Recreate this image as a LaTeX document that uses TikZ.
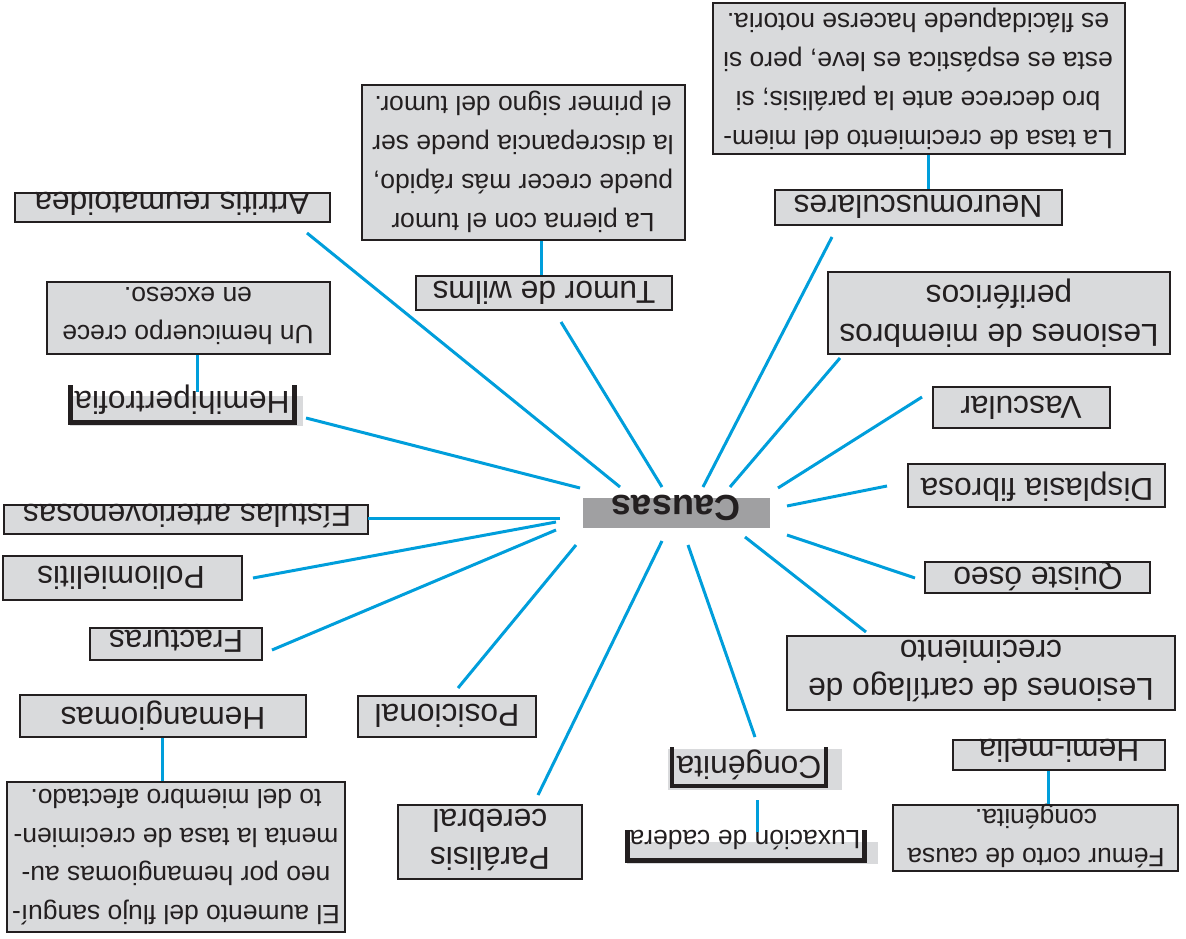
\documentclass[tikz,border=0pt]{standalone}
\usepackage{fontspec}
\setmainfont{Liberation Sans}
\usetikzlibrary{fit}
\definecolor{conn}{RGB}{0,158,219}
\definecolor{boxgray}{RGB}{217,218,220}
\definecolor{hubgray}{RGB}{160,160,162}
\definecolor{ink}{RGB}{35,31,32}
\tikzset{
  box/.style={draw=ink, line width=1.4pt, fill=boxgray, inner sep=0pt},
  shadebox/.style={fill=boxgray, inner sep=0pt},
  lbl/.style={rotate=180, inner sep=0pt, font=\fontsize{18}{22}\selectfont, align=center, text=ink},
  desc/.style={lbl, font=\fontsize{15}{22}\selectfont},
  small/.style={lbl, font=\fontsize{15}{22}\selectfont},
  link/.style={draw=conn, line width=1.7pt},
  frameline/.style={draw=ink, line width=2.8pt},
}
\begin{document}
\begin{tikzpicture}[x=0.567pt, y=-0.567pt]
\useasboundingbox (0,0) rectangle (1186,938);

% hub
\node[fit={(583,498) (770,528)}, fill=hubgray, inner sep=0pt] (causas) {};
\node[lbl, font=\fontsize{20.5}{24}\selectfont\bfseries] (causas-t) at (676,508) {Causas};

% plain boxes
\node[box, fit={(15,193) (330,222)}] (artritis) {};
\node[lbl] (artritis-t) at (172,204) {Artritis reumatoidea};

\node[box, fit={(416,276) (672,310)}] (tumor) {};
\node[lbl] (tumor-t) at (544,293) {Tumor de wilms};

\node[box, fit={(362,85) (685,240)}] (tumordesc) {};
\node[desc] (tumordesc-t) at (523,162) {La pierna con el tumor\\puede crecer más rápido,\\la discrepancia puede ser\\el primer signo del tumor.};

\node[box, fit={(775,190) (1062,225)}] (neuro) {};
\node[lbl] (neuro-t) at (918,207) {Neuromusculares};

\node[box, fit={(713,3) (1125,154)}] (neurodesc) {};
\node[desc] (neurodesc-t) at (918,79) {La tasa de crecimiento del miem-\\bro decrece ante la parálisis; si\\esta es espástica es leve, pero si\\es flácidapuede hacerse notoria.};

\node[box, fit={(828,272) (1170,354)}] (lesmiem) {};
\node[lbl] (lesmiem-t) at (999,313) {Lesiones de miembros\\periféricos};

\node[box, fit={(933,387) (1110,428)}] (vascular) {};
\node[lbl] (vascular-t) at (1021,408) {Vascular};

\node[box, fit={(908,464) (1165,507)}] (displasia) {};
\node[lbl] (displasia-t) at (1037,487) {Displasia fibrosa};

\node[box, fit={(925,562) (1150,593)}] (quiste) {};
\node[lbl] (quiste-t) at (1038,576) {Quiste óseo};

\node[box, fit={(787,636) (1175,710)}] (lescart) {};
\node[lbl] (lescart-t) at (981,671) {Lesiones de cartílago de\\crecimiento};

\node[box, fit={(953,740) (1165,770)}] (hemimelia) {};
\node[lbl] (hemimelia-t) at (1059,751) {Hemi-melia};

\node[box, fit={(893,805) (1178,871)}] (femur) {};
\node[desc] (femur-t) at (1036,836) {Fémur corto de causa\\congénita.};

\node[box, fit={(398,805) (582,879)}] (paralisis) {};
\node[lbl] (paralisis-t) at (490,840) {Parálisis\\cerebral};

\node[box, fit={(358,696) (536,737)}] (posicional) {};
\node[lbl] (posicional-t) at (447,716) {Posicional};

\node[box, fit={(90,628) (262,660)}] (fracturas) {};
\node[lbl] (fracturas-t) at (176,641) {Fracturas};

\node[box, fit={(3,556) (242,600)}] (polio) {};
\node[lbl] (polio-t) at (121,578) {Poliomielitis};

\node[box, fit={(4,505) (368,534)}] (fistulas) {};
\node[lbl] (fistulas-t) at (187,516) {Fístulas arteriovenosas};

\node[box, fit={(47,282) (330,354)}] (hemicuerpo) {};
\node[desc] (hemicuerpo-t) at (188,316) {Un hemicuerpo crece\\en exceso.};

\node[box, fit={(20,695) (306,737)}] (hemangiomas) {};
\node[lbl] (hemangiomas-t) at (163,716) {Hemangiomas};

\node[box, fit={(7,782) (345,932)}] (hemangdesc) {};
\node[desc] (hemangdesc-t) at (176,857) {El aumento del flujo sanguí-\\neo por hemangiomas au-\\menta la tasa de crecimien-\\to del miembro afectado.};

% framed boxes
\node[shadebox, fit={(668,749) (842,790)}] (congenita) {};
\draw[frameline] (672,747) -- (672,786) -- (826,786) -- (826,747);
\node[lbl] (congenita-t) at (749,765) {Congénita};

\node[shadebox, fit={(627,842) (878,864)}] (luxacion) {};
\draw[frameline] (627.5,830) -- (627.5,860.5) -- (864.5,860.5) -- (864.5,830);
\node[small] (luxacion-t) at (745,840) {Luxación de cadera};

\node[shadebox, fit={(70,396) (303,426)}] (hemihiper) {};
\draw[frameline] (70.5,385) -- (70.5,422.5) -- (294.5,422.5) -- (294.5,385);
\node[lbl] (hemihiper-t) at (182,400) {Hemihipertrofia};

% connector end points
\coordinate (h1) at (620,487);  \coordinate (e1) at (307,233);
\coordinate (h2) at (662,487);  \coordinate (e2) at (561,322);
\coordinate (h3) at (703,487);  \coordinate (e3) at (832,237);
\coordinate (h4) at (730,487);  \coordinate (e4) at (840,358);
\coordinate (h5) at (778,488);  \coordinate (e5) at (922,397);
\coordinate (h6) at (787,506);  \coordinate (e6) at (887,486);
\coordinate (h7) at (787,535);  \coordinate (e7) at (915,578);
\coordinate (h8) at (745,537);  \coordinate (e8) at (866,632);
\coordinate (h9) at (688,545);  \coordinate (e9) at (755,737);
\coordinate (h10) at (662,541); \coordinate (e10) at (538,795);
\coordinate (h11) at (576,545); \coordinate (e11) at (458,688);
\coordinate (h12) at (556,530); \coordinate (e12) at (272,650);
\coordinate (h13) at (556,522); \coordinate (e13) at (253,578);
\coordinate (h14) at (560,518); \coordinate (e14) at (368,518);
\coordinate (h15) at (580,488); \coordinate (e15) at (306,418);

\foreach \i in {1,...,15} {\draw[link] (h\i) -- (e\i);}

% vertical connectors
\coordinate (congbot) at (757,800);
\coordinate (luxtop) at (757,832);
\coordinate (hhtop) at (197,392);
\draw[link] (541,0 |- tumordesc.south) -- (541,0 |- tumor.north);
\draw[link] (928,0 |- neurodesc.south) -- (928,0 |- neuro.north);
\draw[link] (197,0 |- hemicuerpo.south) -- (hhtop);
\draw[link] (162,0 |- hemangiomas.south) -- (162,0 |- hemangdesc.north);
\draw[link] (congbot) -- (luxtop);
\draw[link] (1048,0 |- hemimelia.south) -- (1048,0 |- femur.north);
\end{tikzpicture}
\end{document}
